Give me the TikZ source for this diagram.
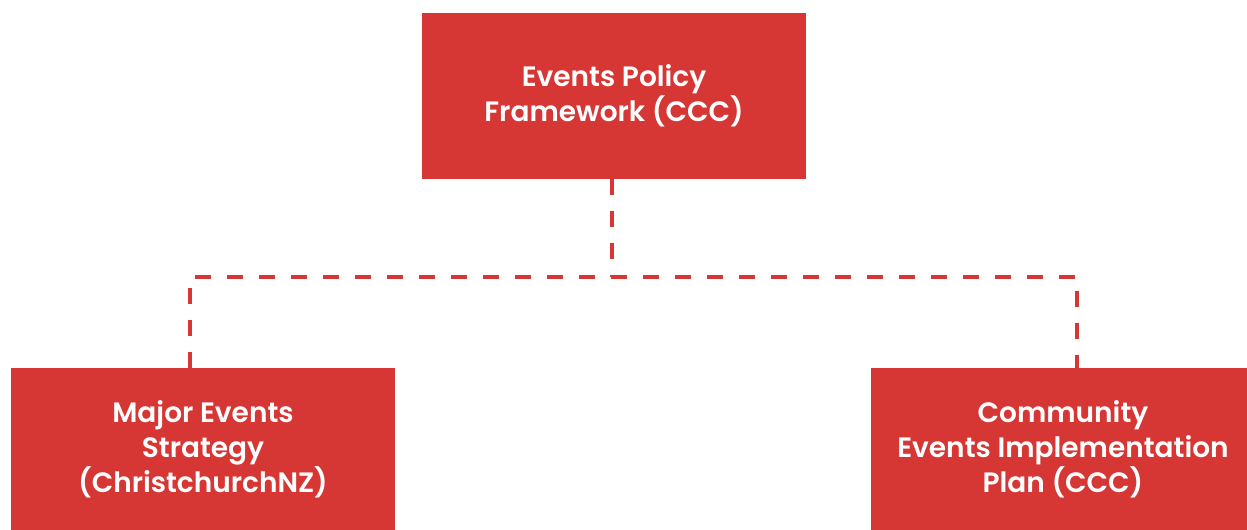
\documentclass[tikz,border=0pt]{standalone}
\usepackage{fontspec}
\setmainfont{Poppins}[BoldFont={Poppins SemiBold}]
\usetikzlibrary{positioning}
\definecolor{evred}{HTML}{D63734}

\begin{document}
\begin{tikzpicture}[x=0.75pt,y=-0.75pt]
  \tikzstyle{every node}=[font=\fontsize{21}{26.25}\selectfont\bfseries]
  \tikzstyle{evbox}=[rectangle, fill=evred, text=white, align=center,
                     inner sep=0pt, minimum width=288pt]
  \tikzstyle{link}=[draw=evred, line width=3pt, dash pattern=on 12pt off 12pt]

    \path[use as bounding box] (0,0) rectangle (1247,529);
    \clip (0,0) rectangle (1247,529);

    \node[evbox, minimum height=124.5pt] (epf)  at (614,96)    {Events Policy\\Framework (CCC)};
    \node[evbox, minimum height=121.5pt] (mes)  at (203,449)   {Major Events\\Strategy\\(ChristchurchNZ)};
    \node[evbox, minimum height=121.5pt] (ceip) at (1063,449)  {Community\\Events Implementation\\Plan (CCC)};

    \coordinate (bus)   at (612,277);
    \coordinate (busl)  at (190,277);
    \coordinate (busr)  at (1077,277);

    \path[link]
    (epf.south -| bus) -- (bus)
    (busl |- mes.north) -- (busl) -- (busr) -- (busr |- ceip.north);

\end{tikzpicture}
\end{document}
